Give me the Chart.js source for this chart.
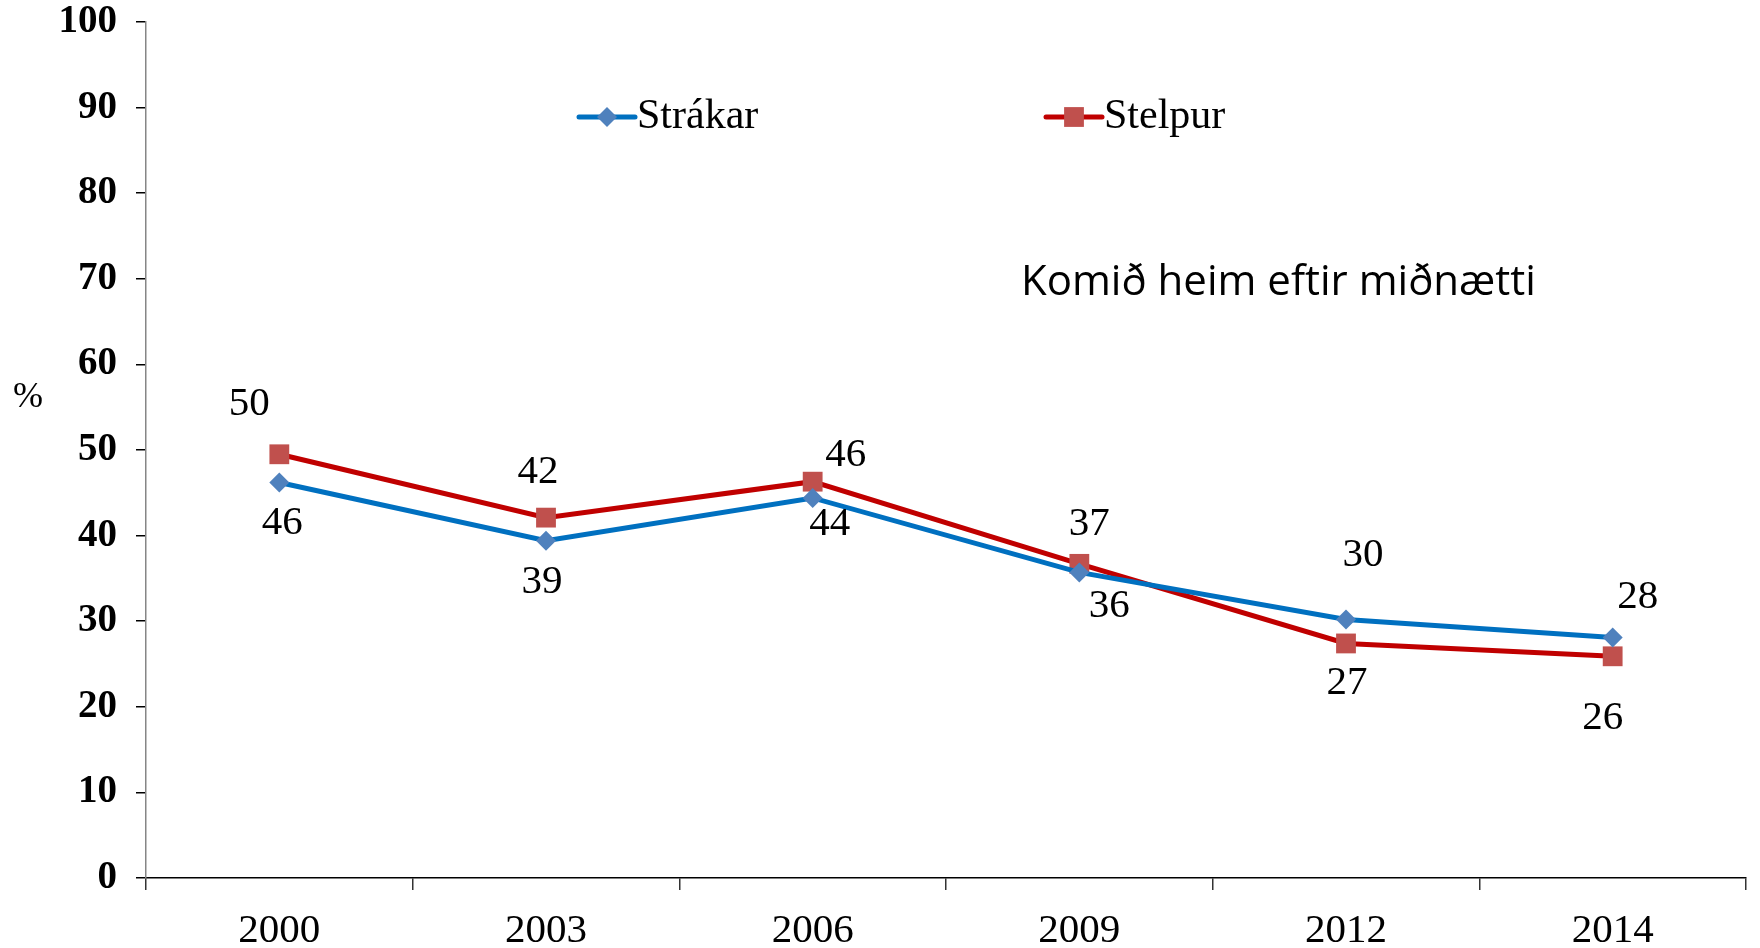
<!DOCTYPE html>
<html lang="is">
<head>
  <meta charset="UTF-8">
  <title>Komið heim eftir miðnætti</title>
  <script src="https://cdn.jsdelivr.net/npm/chart.js"></script>
  <style>
    html, body { margin: 0; padding: 0; background: #fff; }
    #wrap { width: 1760px; height: 948px; position: relative; }
  </style>
</head>
<body>
  <div id="wrap"><canvas id="chart" width="1760" height="948"></canvas></div>

  <script>
    // gögn lesin af myndinni
    const years = ['2000', '2003', '2006', '2009', '2012', '2014'];
    const strakar = [46.2, 39.4, 44.4, 35.7, 30.2, 28.1];
    const stelpur = [49.5, 42.1, 46.3, 36.7, 27.4, 25.9];
    const seriesNames = ['Strákar', 'Stelpur'];
    const chartTitle = 'Komið heim eftir miðnætti';
    const yUnit = '%';

    // hvar tölumerkin sitja miðað við punktinn (px)
    const labelOffsets = [
      [[3, 41], [-4, 41], [17, 26], [30, 34], [17, -64], [25, -40]],
      [[-30, -50], [-8, -45], [33, -26], [10, -40], [1, 40], [-10, 62]]
    ];

    const serif = '"Liberation Serif", "Times New Roman", serif';
    const blueLine = '#0070C0', blueMark = '#4F81BD';
    const redLine = '#C00000', redMark = '#C0504D';

    const extras = {
      id: 'extras',
      afterDatasetsDraw(chart) {
        const ctx = chart.ctx;
        ctx.save();
        ctx.fillStyle = '#000';
        ctx.textAlign = 'center';
        ctx.textBaseline = 'middle';
        ctx.font = '41px ' + serif;
        chart.data.datasets.forEach((ds, i) => {
          const meta = chart.getDatasetMeta(i);
          meta.data.forEach((pt, j) => {
            const off = labelOffsets[i][j];
            ctx.fillText(String(Math.round(ds.data[j])), pt.x + off[0], pt.y + off[1]);
          });
        });

        // % á y-ás
        ctx.font = '36px ' + serif;
        ctx.fillText(yUnit, 28, 398);

        // titill inni í grafinu
        ctx.textAlign = 'left';
        ctx.font = '42px "Open Sans", sans-serif';
        ctx.fillText(chartTitle, 1021, 283);

        // skýringar
        const leg = [
          { x: 579, line: blueLine, mark: blueMark, style: 'rectRot', r: 10 },
          { x: 1046, line: redLine, mark: redMark, style: 'rect', r: 14 }
        ];
        const ly = 117;
        ctx.font = '42px ' + serif;
        leg.forEach((l, i) => {
          ctx.strokeStyle = l.line;
          ctx.lineWidth = 5;
          ctx.lineCap = 'round';
          ctx.beginPath();
          ctx.moveTo(l.x, ly);
          ctx.lineTo(l.x + 56, ly);
          ctx.stroke();
          ctx.fillStyle = l.mark;
          Chart.helpers.drawPoint(ctx, { pointStyle: l.style, radius: l.r, rotation: 0, borderWidth: 0 }, l.x + 28, ly);
          ctx.fillStyle = '#000';
          ctx.fillText(seriesNames[i], l.x + 58, ly);
        });
        ctx.restore();
      }
    };

    new Chart(document.getElementById('chart').getContext('2d'), {
      type: 'line',
      data: {
        labels: years,
        datasets: [{
          label: seriesNames[0],
          data: strakar,
          borderColor: blueLine,
          borderWidth: 5,
          backgroundColor: blueMark,
          pointStyle: 'rectRot',
          pointRadius: 10,
          pointBorderWidth: 0,
          pointBackgroundColor: blueMark,
          pointBorderColor: blueMark,
          tension: 0
        }, {
          label: seriesNames[1],
          data: stelpur,
          borderColor: redLine,
          borderWidth: 5,
          backgroundColor: redMark,
          pointStyle: 'rect',
          pointRadius: 14,
          pointBorderWidth: 0,
          pointBackgroundColor: redMark,
          pointBorderColor: redMark,
          tension: 0
        }]
      },
      options: {
        responsive: false,
        animation: false,
        layout: { padding: { top: 22, right: 7, left: 0, bottom: 0 } },
        plugins: {
          legend: { display: false },
          tooltip: { enabled: false }
        },
        scales: {
          x: {
            offset: true,
            grid: { offset: true, drawOnChartArea: false, drawTicks: true, tickLength: 12, color: '#333', lineWidth: 1.5 },
            border: { color: '#000', width: 1.5 },
            ticks: { color: '#000', font: { family: serif, size: 41 }, padding: 17, maxRotation: 0 },
            afterFit(scale) {
              scale.height = 70;
              scale.paddingLeft = 0;
              scale.paddingRight = 0;
            }
          },
          y: {
            min: 0,
            max: 100,
            ticks: { stepSize: 10, color: '#000', font: { family: serif, size: 39, weight: 'bold' }, padding: 19 },
            grid: { drawOnChartArea: false, drawTicks: true, tickLength: 10, color: '#000', lineWidth: 1.5 },
            border: { color: '#868686', width: 1.5 },
            afterFit(scale) {
              scale.width = 146;
              scale.paddingTop = 0;
              scale.paddingBottom = 0;
            }
          }
        }
      },
      plugins: [extras]
    });
  </script>
</body>
</html>
